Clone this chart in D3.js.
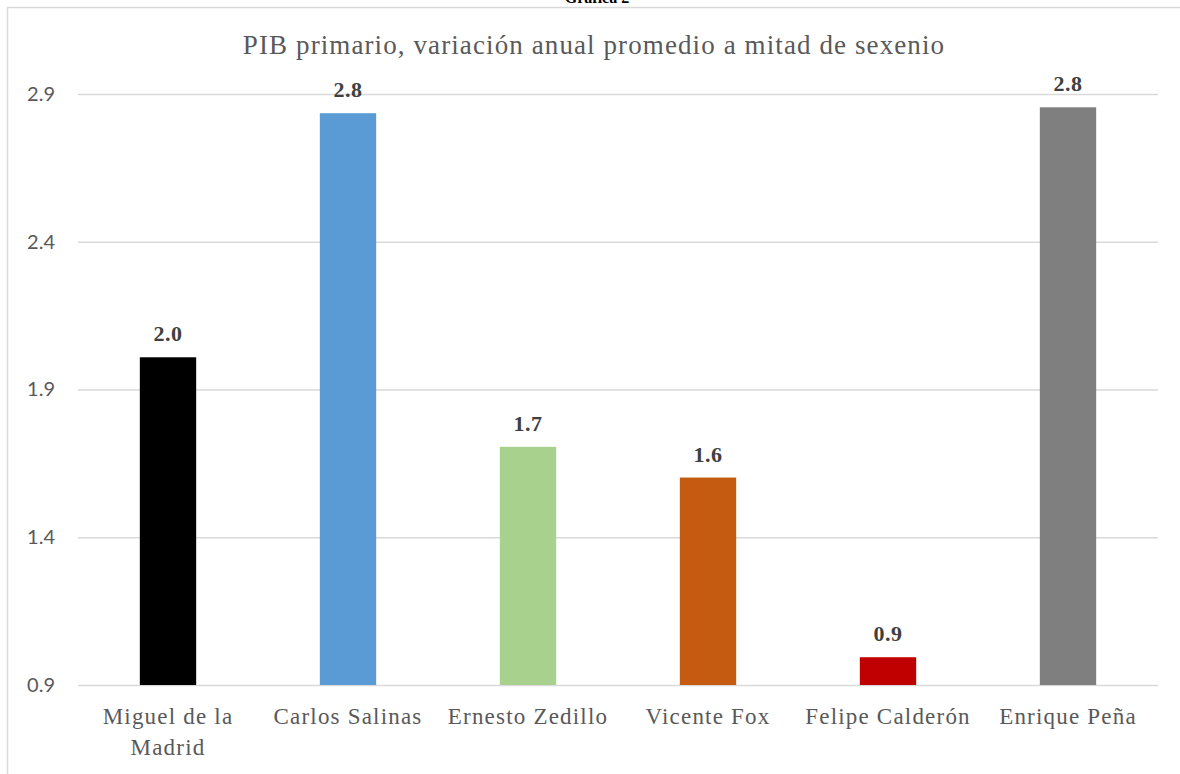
<!DOCTYPE html>
<html>
<head>
<meta charset="utf-8">
<script src="https://cdn.jsdelivr.net/npm/d3@7"></script>
<style>
  html, body { margin: 0; padding: 0; background: #fff; }
  svg { display: block; }
</style>
</head>
<body>
<svg id="chart" width="1180" height="774"></svg>
<script>
// ---- Data ----
const categories = ["Miguel de la Madrid", "Carlos Salinas", "Ernesto Zedillo", "Vicente Fox", "Felipe Calderón", "Enrique Peña"];
const values = [1.959, 2.785, 1.656, 1.552, 0.944, 2.805];
const barColors = ["#000000", "#5b9bd5", "#a9d18e", "#c55a11", "#c00000", "#7f7f7f"];
const yTicks = [0.85, 1.35, 1.85, 2.35, 2.85];
const yDomain = [0.85, 2.85];
const title = "PIB primario, variación anual promedio a mitad de sexenio";
const caption = "Gráfica 2";

// ---- Layout ----
const W = 1180, H = 774;
const plot = { left: 78, right: 1158, top: 94, bottom: 685 };
const serif = "'Liberation Serif', 'DejaVu Serif', serif";
const sans = "Lato, 'Liberation Sans', sans-serif";
const fmt1 = v => (Math.round(v * 10 + 1e-9) / 10).toFixed(1);

const svg = d3.select("#chart");

// Frame
svg.append("rect")
  .attr("x", 7.5).attr("y", 7.5)
  .attr("width", W).attr("height", H)
  .attr("fill", "none").attr("stroke", "#d9d9d9").attr("stroke-width", 1.5);

// Caption cut at top (as in the source)
svg.append("text")
  .attr("x", 597).attr("y", 3)
  .attr("text-anchor", "middle")
  .attr("font-family", serif).attr("font-weight", "bold").attr("font-size", 16)
  .attr("fill", "#000")
  .text(caption);

// Title
svg.append("text")
  .attr("x", 594).attr("y", 54)
  .attr("text-anchor", "middle")
  .attr("font-family", serif).attr("font-size", 27)
  .attr("letter-spacing", 1.1)
  .attr("fill", "#595959")
  .text(title);

const x = d3.scaleBand()
  .domain(categories)
  .range([plot.left, plot.right])
  .paddingInner(0.687)
  .paddingOuter(0.3435);

const y = d3.scaleLinear().domain(yDomain).range([plot.bottom, plot.top]);

// Gridlines + y tick labels
const yAxis = d3.axisLeft(y)
  .tickValues(yTicks)
  .tickSize(-(plot.right - plot.left))
  .tickPadding(23)
  .tickFormat(fmt1);

const gy = svg.append("g")
  .attr("transform", `translate(${plot.left},0)`)
  .call(yAxis);
gy.select(".domain").remove();
gy.selectAll(".tick line").attr("stroke", "#d9d9d9").attr("stroke-width", 1.5);
gy.selectAll(".tick text")
  .attr("font-family", sans).attr("font-size", 20).attr("fill", "#595959");

// Bars
svg.append("g").selectAll("rect")
  .data(categories)
  .join("rect")
  .attr("x", d => x(d))
  .attr("width", x.bandwidth())
  .attr("y", (d, i) => y(values[i]))
  .attr("height", (d, i) => y(yDomain[0]) - y(values[i]))
  .attr("fill", (d, i) => barColors[i]);

// Data labels
svg.append("g").selectAll("text")
  .data(categories)
  .join("text")
  .attr("x", d => x(d) + x.bandwidth() / 2)
  .attr("y", (d, i) => y(values[i]) - 16)
  .attr("text-anchor", "middle")
  .attr("font-family", serif).attr("font-weight", "bold").attr("font-size", 22)
  .attr("letter-spacing", 0.5)
  .attr("fill", "#404040")
  .text((d, i) => fmt1(values[i]));

// X axis category labels (wrapped)
const xAxis = d3.axisBottom(x).tickSize(0).tickPadding(0);
const gx = svg.append("g")
  .attr("transform", `translate(0,${plot.bottom})`)
  .call(xAxis);
gx.select(".domain").remove();
gx.selectAll(".tick text").each(function(d) {
  const t = d3.select(this);
  t.text(null)
    .attr("y", 0)
    .attr("dy", null)
    .attr("font-family", serif).attr("font-size", 23)
    .attr("letter-spacing", 1.2)
    .attr("fill", "#595959");
  const words = d.split(" ");
  const maxW = 178;
  let lines = [], line = [];
  const probe = t.append("tspan");
  words.forEach(w => {
    const test = line.concat(w).join(" ");
    probe.text(test);
    if (probe.node().getComputedTextLength() > maxW && line.length) {
      lines.push(line.join(" "));
      line = [w];
    } else {
      line.push(w);
    }
  });
  lines.push(line.join(" "));
  probe.remove();
  lines.forEach((l, i) => {
    t.append("tspan").attr("x", 0).attr("y", 39 + i * 31).text(l);
  });
});
</script>
</body>
</html>
